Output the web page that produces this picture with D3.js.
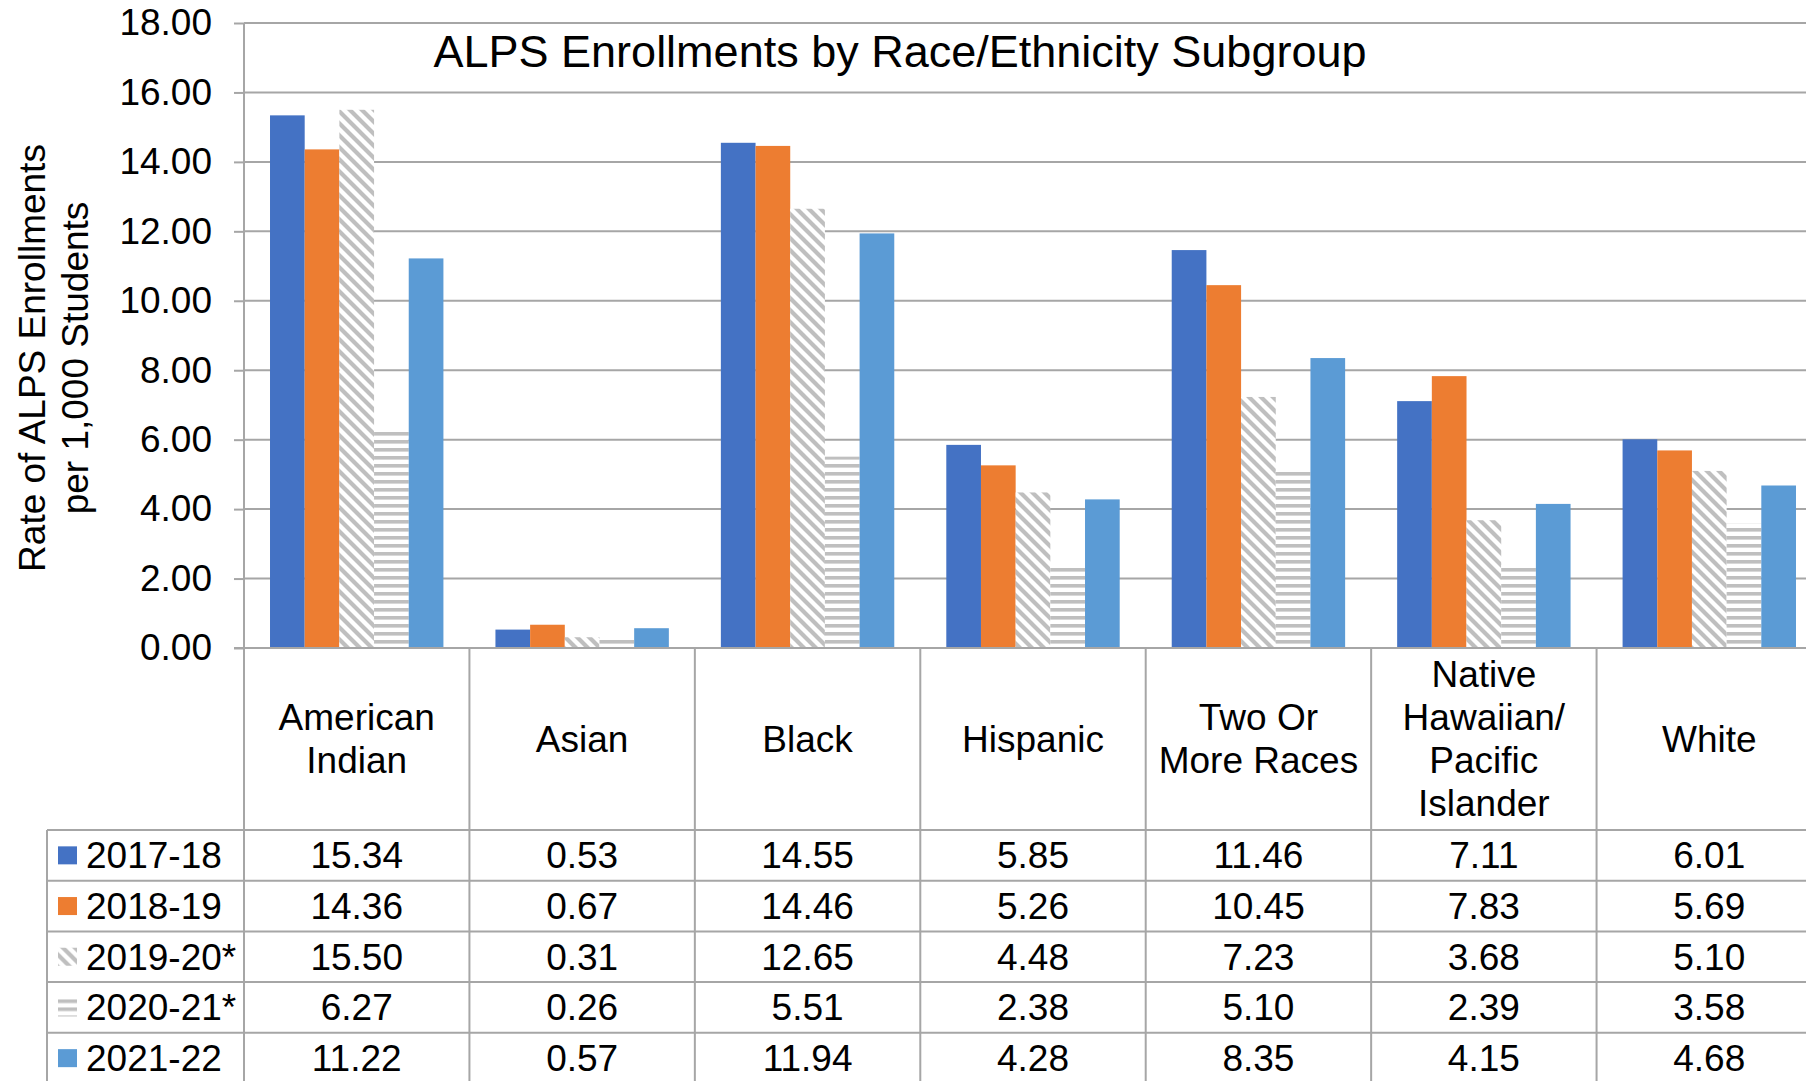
<!DOCTYPE html>
<html>
<head>
<meta charset="utf-8">
<script src="https://cdn.jsdelivr.net/npm/d3@7"></script>
<style>
  html, body { margin: 0; padding: 0; background: #fff; }
  svg { display: block; font-family: "Liberation Sans", Arial, sans-serif; }
</style>
</head>
<body>
<script>
const categories = ['American Indian', 'Asian', 'Black', 'Hispanic', 'Two Or More Races', 'Native Hawaiian/ Pacific Islander', 'White'];
const categoryLines = [['American', 'Indian'], ['Asian'], ['Black'], ['Hispanic'], ['Two Or', 'More Races'], ['Native', 'Hawaiian/', 'Pacific', 'Islander'], ['White']];
const seriesNames = ['2017-18', '2018-19', '2019-20*', '2020-21*', '2021-22'];
const values2017 = [15.34, 0.53, 14.55, 5.85, 11.46, 7.11, 6.01];
const values2018 = [14.36, 0.67, 14.46, 5.26, 10.45, 7.83, 5.69];
const values2019 = [15.50, 0.31, 12.65, 4.48, 7.23, 3.68, 5.10];
const values2020 = [6.27, 0.26, 5.51, 2.38, 5.10, 2.39, 3.58];
const values2021 = [11.22, 0.57, 11.94, 4.28, 8.35, 4.15, 4.68];
const yTicks = [0, 2, 4, 6, 8, 10, 12, 14, 16, 18];
const chartTitle = 'ALPS Enrollments by Race/Ethnicity Subgroup';
const yTitle = ['Rate of ALPS Enrollments', 'per 1,000 Students'];

const seriesValues = [values2017, values2018, values2019, values2020, values2021];
const fills = ['#4472c4', '#ed7d31', 'url(#diag)', 'url(#horiz)', '#5b9bd5'];

const width = 1806;
const height = 1081;
const plotLeft = 244;
const plotRight = 1822;
const plotTop = 23;
const baseline = 648;
const tableTop = 830;
const rowHeight = 50.7;
const tableLeft = 47;
const gridColor = '#a6a6a6';
const fontSize = 37;

const svg = d3.select('body')
  .append('svg')
  .attr('width', width)
  .attr('height', height);

// Fill patterns for the two starred years
const defs = svg.append('defs');
const diag = defs.append('pattern')
  .attr('id', 'diag')
  .attr('patternUnits', 'userSpaceOnUse')
  .attr('width', 12)
  .attr('height', 12);
diag.append('rect').attr('width', 12).attr('height', 12).attr('fill', '#fff');
diag.append('path')
  .attr('d', 'M0,0L12,12M-6,6L6,18M6,-6L18,6')
  .attr('stroke', '#bfbfbf')
  .attr('stroke-width', 4.2);

const horiz = defs.append('pattern')
  .attr('id', 'horiz')
  .attr('patternUnits', 'userSpaceOnUse')
  .attr('width', 8)
  .attr('height', 8);
horiz.append('rect').attr('width', 8).attr('height', 8).attr('fill', '#fff');
horiz.append('rect').attr('y', 0).attr('width', 8).attr('height', 3.6).attr('fill', '#bfbfbf');

// Scales
const x = d3.scaleBand()
  .domain(categories)
  .range([plotLeft, plotRight])
  .paddingInner(0)
  .paddingOuter(0);

const xInner = d3.scaleBand()
  .domain(seriesNames)
  .range([0, x.bandwidth()])
  .paddingInner(0)
  .paddingOuter(0.75);

const y = d3.scaleLinear()
  .domain([0, 18])
  .range([baseline, plotTop]);

// Gridlines
svg.append('g')
  .selectAll('line')
  .data(yTicks)
  .enter()
  .append('line')
  .attr('x1', plotLeft)
  .attr('x2', width)
  .attr('y1', (d) => y(d))
  .attr('y2', (d) => y(d))
  .attr('stroke', gridColor)
  .attr('stroke-width', 2);

// Y axis
const yAxis = d3.axisLeft(y)
  .tickValues(yTicks)
  .tickFormat(d3.format('.2f'))
  .tickSize(10)
  .tickSizeOuter(0)
  .tickPadding(22);

const yAxisG = svg.append('g')
  .attr('transform', 'translate(' + plotLeft + ',0)')
  .call(yAxis);
yAxisG.select('.domain').remove();
yAxisG.selectAll('.tick line').attr('stroke', gridColor).attr('stroke-width', 2);
yAxisG.selectAll('.tick text')
  .attr('fill', '#000')
  .style('font-family', '"Liberation Sans", Arial, sans-serif')
  .style('font-size', fontSize + 'px');

// Bars
const groups = svg.append('g')
  .selectAll('g')
  .data(seriesNames)
  .enter()
  .append('g')
  .attr('fill', (d, i) => fills[i]);

groups.selectAll('rect')
  .data((s, i) => categories.map((c, j) => ({ cat: c, series: s, value: seriesValues[i][j] })))
  .enter()
  .append('rect')
  .attr('x', (d) => x(d.cat) + xInner(d.series))
  .attr('width', xInner.bandwidth())
  .attr('y', (d) => y(d.value))
  .attr('height', (d) => y(0) - y(d.value));

// Redraw baseline over the bars
svg.append('line')
  .attr('x1', plotLeft - 10)
  .attr('x2', width)
  .attr('y1', y(0))
  .attr('y2', y(0))
  .attr('stroke', gridColor)
  .attr('stroke-width', 2);

// Data table lines
const rowLines = d3.range(seriesNames.length + 1).map((i) => tableTop + i * rowHeight);
svg.append('g')
  .selectAll('line')
  .data(rowLines)
  .enter()
  .append('line')
  .attr('x1', tableLeft)
  .attr('x2', width)
  .attr('y1', (d) => d)
  .attr('y2', (d) => d)
  .attr('stroke', gridColor)
  .attr('stroke-width', 2);

svg.append('line')
  .attr('x1', tableLeft).attr('x2', tableLeft)
  .attr('y1', tableTop).attr('y2', height)
  .attr('stroke', gridColor).attr('stroke-width', 2);

svg.append('line')
  .attr('x1', plotLeft).attr('x2', plotLeft)
  .attr('y1', plotTop).attr('y2', height)
  .attr('stroke', gridColor).attr('stroke-width', 2);

svg.append('g')
  .selectAll('line')
  .data(categories.slice(1))
  .enter()
  .append('line')
  .attr('x1', (d) => x(d)).attr('x2', (d) => x(d))
  .attr('y1', baseline).attr('y2', height)
  .attr('stroke', gridColor).attr('stroke-width', 2);

// Category labels
const headerMid = (baseline + tableTop) / 2;
const lineGap = 43;
const catLabels = svg.append('g')
  .selectAll('text')
  .data(categories)
  .enter()
  .append('text')
  .attr('text-anchor', 'middle')
  .attr('font-size', fontSize)
  .attr('fill', '#000');

catLabels.each(function(c, i) {
  const lines = categoryLines[i];
  const start = headerMid - (lines.length - 1) * lineGap / 2;
  d3.select(this).selectAll('tspan')
    .data(lines)
    .enter()
    .append('tspan')
    .attr('x', x(c) + x.bandwidth() / 2)
    .attr('y', (d, k) => start + k * lineGap)
    .attr('dy', '0.35em')
    .text((d) => d);
});

// Table rows: legend keys and values
const rows = svg.append('g')
  .selectAll('g')
  .data(seriesNames)
  .enter()
  .append('g')
  .attr('transform', (d, i) => 'translate(0,' + (tableTop + (i + 0.5) * rowHeight) + ')');

rows.append('rect')
  .attr('x', 58)
  .attr('y', -9)
  .attr('width', 19)
  .attr('height', 18)
  .attr('fill', (d, i) => fills[i]);

rows.append('text')
  .attr('x', 86)
  .attr('dy', '0.35em')
  .attr('font-size', fontSize)
  .attr('fill', '#000')
  .text((d) => d);

rows.selectAll('text.val')
  .data((s, i) => categories.map((c, j) => ({ cat: c, value: seriesValues[i][j] })))
  .enter()
  .append('text')
  .attr('class', 'val')
  .attr('x', (d) => x(d.cat) + x.bandwidth() / 2)
  .attr('dy', '0.35em')
  .attr('text-anchor', 'middle')
  .attr('font-size', fontSize)
  .attr('fill', '#000')
  .text((d) => d.value.toFixed(2));

// Titles
svg.append('text')
  .attr('x', 900)
  .attr('y', 67)
  .attr('text-anchor', 'middle')
  .attr('font-size', 45)
  .attr('fill', '#000')
  .text(chartTitle);

svg.append('text')
  .attr('transform', 'translate(45,358) rotate(-90)')
  .attr('text-anchor', 'middle')
  .attr('font-size', fontSize)
  .attr('fill', '#000')
  .selectAll('tspan')
  .data(yTitle)
  .enter()
  .append('tspan')
  .attr('x', 0)
  .attr('y', (d, i) => i * 43)
  .text((d) => d);
</script>
</body>
</html>
